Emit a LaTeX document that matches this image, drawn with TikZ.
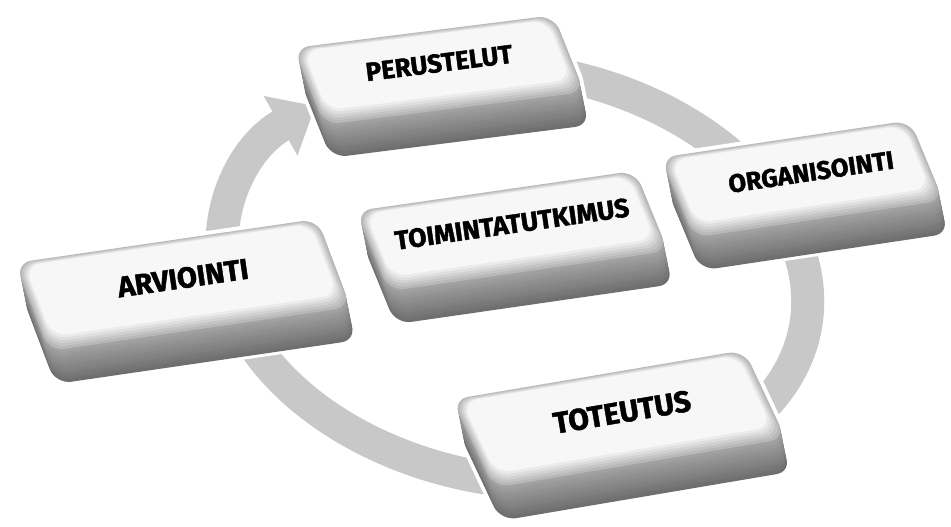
\documentclass[tikz,border=0pt]{standalone}
\usepackage{fontspec}
\setmainfont{Fira Sans}[BoldFeatures={FakeBold=1.5}]
\usetikzlibrary{arrows.meta}
\definecolor{ringgray}{RGB}{200,200,200}
\tikzset{
  ring/.style={draw=ringgray,line width=33pt,-{Triangle[length=40pt,width=66pt]}},
  keyhalo/.style={draw=white,line width=8pt,rounded corners=16pt},
  keybody/.style={rounded corners=16pt},
  keylabel/.style={inner sep=0pt,text=black,font=\fontsize{#1}{#1}\selectfont\bfseries},
}

\begin{document}
\begin{tikzpicture}[x=1pt,y=-1pt]
  \useasboundingbox (0,0) rectangle (951,527);
  % grey ring arrow behind the keys
  \coordinate (ringc) at (515,275);
  \begin{scope}[shift={(ringc)},rotate=-10]
    \draw[ring] (110:295pt and 205pt)
      arc[start angle=110,end angle=-220,x radius=295pt,y radius=205pt];
  \end{scope}
  % keys, back to front
  \foreach \nm/\cx/\cy/\rot/\sk/\w/\hh/\tx/\fs/\txt in {
      per/439/70/7.2/-0.26/262/80/0/26/PERUSTELUT,
      org/802/179/8.5/-0.25/252/84/9/25.5/ORGANISOINTI,
      toi/512/231/8.2/-0.25/282/84/0/26.5/TOIMINTATUTKIMUS,
      arv/183/285/8.3/-0.22/305/92/0/29/ARVIOINTI,
      tot/619/419/9.6/-0.28/296/94/3/30/TOTEUTUS}{
    % white halo
    \foreach \dd in {0,4,...,32}
      \draw[keyhalo,shift={(\cx+0.2*\dd,\cy+\dd)},rotate=\rot,xslant=\sk]
        (-\w/2,-\hh/2) rectangle (\w/2,\hh/2);
    % side
    \foreach \dd [evaluate=\dd as \gr using int(36+0.65*\dd)] in {33,31,...,1}
      \fill[keybody,black!\gr,shift={(\cx+0.2*\dd,\cy+\dd)},rotate=\rot,xslant=\sk]
        (-\w/2,-\hh/2) rectangle (\w/2,\hh/2);
    % top face with bevel
    \foreach \bv [evaluate=\bv as \gr using int(28-5*\bv)] in {0,...,5}
      \fill[keybody,black!\gr,shift={(\cx,\cy)},rotate=\rot,xslant=\sk]
        (-\w/2+1.6*\bv,-\hh/2+0.8*\bv) rectangle (\w/2-1.6*\bv,\hh/2-2.8*\bv);
    \node[keylabel=\fs,rotate=\rot] (\nm) at (\cx+\tx,\cy-7) {\txt};
  }
\end{tikzpicture}
\end{document}
